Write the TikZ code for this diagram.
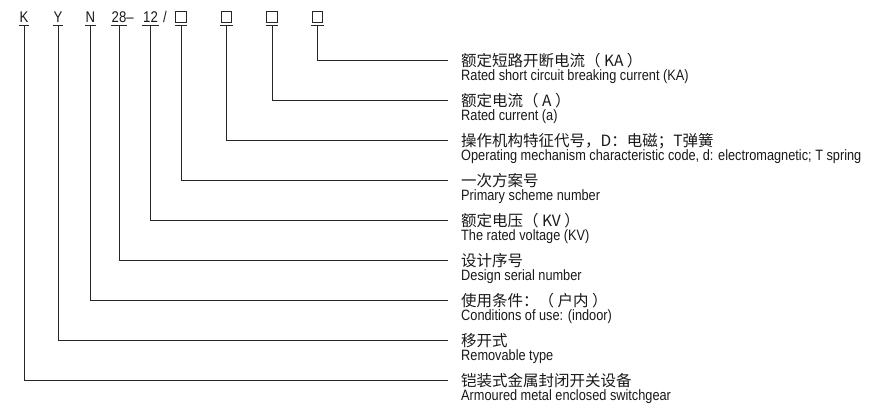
\documentclass[tikz,border=0pt]{standalone}
\usepackage{fontspec}
\setmainfont{Liberation Sans}[FakeStretch=0.85]
\newfontfamily\cjk{Noto Sans CJK SC}
\usepackage{tikz}
\usetikzlibrary{positioning,calc}

\begin{document}
\begin{tikzpicture}[x=1pt, y=-1pt,
    every node/.style={inner sep=0pt, text=black!90},
    code/.style={anchor=base, font=\fontsize{15.5}{15.5}\selectfont},
    sq/.style={draw=black!85, line width=0.8pt, minimum size=10.5pt},
    cnlab/.style={anchor=base west, font=\cjk\fontsize{15.5}{15.5}\selectfont},
    enlab/.style={anchor=base west, font=\fontsize{15}{15}\selectfont},
    conn/.style={draw=black!85, line width=0.8pt}]
  \useasboundingbox (0,0) rectangle (869,409);

  % type code along the top
  \node[code] (cK) at (24,22.5) {K};
  \node[code] (cY) at (58,22.5) {Y};
  \node[code] (cN) at (90.5,22.5) {N};
  \node[code] (c28) at (119,22.5) {28};
  \node[code] (dash) at (130,22.5) {--};
  \node[code] (c12) at (150.5,22.5) {12};
  \node[code] (slash) at (165,22.5) {/};
  \node[sq] (b1) at (181,17) {};
  \node[sq] (b2) at (226.5,17) {};
  \node[sq] (b3) at (272,17) {};
  \node[sq] (b4) at (317.5,17) {};

  % explanations
  \foreach \i/\cn/\en in {
      0/{额定短路开断电流（ KA ）}/{Rated short circuit breaking current (KA)},
      1/{额定电流（ A ）}/{Rated current (a)},
      2/{操作机构特征代号，D：电磁；T弹簧}/{Operating mechanism characteristic code, d: electromagnetic; T spring},
      3/{一次方案号}/{Primary scheme number},
      4/{额定电压（ KV ）}/{The rated voltage (KV)},
      5/{设计序号}/{Design serial number},
      6/{使用条件：（ 户内 ）}/{Conditions of use: (indoor)},
      7/{移开式}/{Removable type},
      8/{铠装式金属封闭开关设备}/{Armoured metal enclosed switchgear}} {
    \coordinate (e\i) at (448,60.5+40*\i);
    \node[cnlab] (cn\i) at (461,66.5+40*\i) {\cn};
    \node[enlab] (en\i) at (461,80.5+40*\i) {\en};
  }

  % underlines and leaders
  \foreach \n/\i in {b4/0,b3/1,b2/2,b1/3,c12/4,c28/5,cN/6,cY/7,cK/8} {
    \draw[conn] ([xshift=-0.5pt,yshift=-3pt]\n.south west) -- ([xshift=0.5pt,yshift=-3pt]\n.south east);
    \draw[conn] ([yshift=-3pt]\n.south) |- (e\i);
  }
\end{tikzpicture}
\end{document}
